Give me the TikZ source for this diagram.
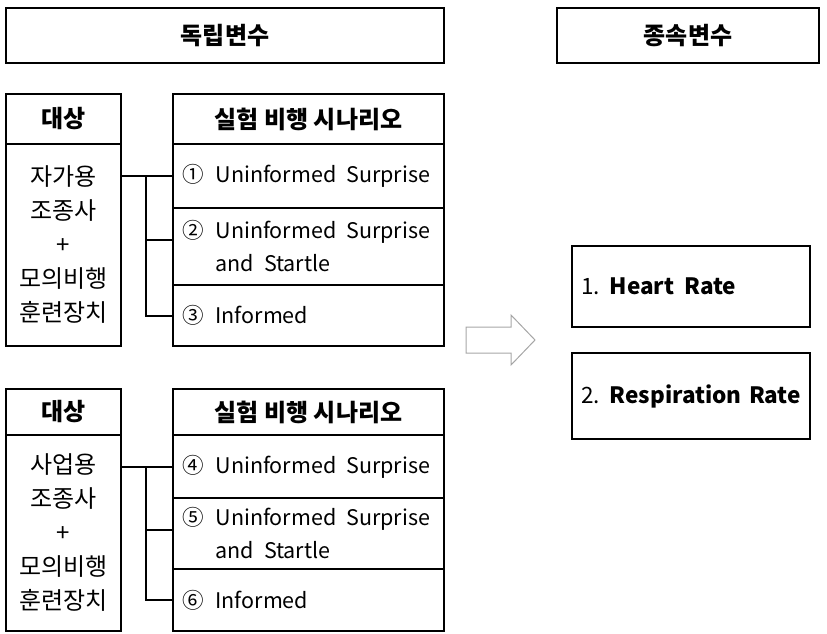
\documentclass[tikz,border=0pt]{standalone}
\usepackage{fontspec}
\setmainfont{Noto Sans CJK KR}
\usetikzlibrary{positioning, calc}
\newcommand{\cellfont}{\fontsize{21.5}{33}\selectfont\hyphenpenalty=10000\relax}
\newcommand{\resultfont}{\fontsize{22.5}{33}\selectfont\hyphenpenalty=10000\relax}
\newcommand{\wsp}{\hspace{10pt}}
\newcommand{\nsp}{\hspace{12pt}}

\begin{document}
\begin{tikzpicture}[x=1pt, y=-1pt,
  frame/.style={draw, line width=2pt, inner sep=0pt},
  hdr/.style={frame, anchor=north west, font=\fontsize{24}{33}\selectfont\bfseries},
  subj/.style={frame, anchor=north west, align=center, minimum width=115pt, font=\fontsize{24}{34}\selectfont},
  cell/.style={frame, anchor=north west, align=left, inner xsep=9pt, text width=253pt, font=\cellfont},
  result/.style={cell, text width=220pt, font=\resultfont},
  link/.style={line width=2pt}]
  \useasboundingbox (0,0) rectangle (827,634);

  % Column headers
  \node[hdr, minimum width=438pt, minimum height=55pt] (indep) at (5,7) {독립변수};
  \node[hdr, minimum width=262pt, minimum height=55pt] (dep) at (556,7) {종속변수};

  % First group: subject and scenarios
  \node[hdr, minimum width=115pt, minimum height=50pt] (subjA) at (5,93) {대상};
  \node[subj, minimum height=202pt] (bodyA) at (5,143) {자가용\\조종사\\+\\모의비행\\훈련장치};
  \node[hdr, minimum width=271pt, minimum height=50pt] (scnA) at (172,93) {실험 비행 시나리오};
  \node[cell, minimum height=64pt] (c1) at (172,143) {①\nsp Uninformed\wsp Surprise};
  \node[cell, minimum height=77pt] (c2) at (172,207) {②\nsp Uninformed\wsp Surprise\\\hphantom{②}\nsp and\wsp Startle};
  \node[cell, minimum height=61pt] (c3) at (172,284) {③\nsp Informed};

  \coordinate (jA) at ($(c1.west)+(-26,0)$);
  \coordinate (k2) at ([yshift=7pt]c2.west);
  \draw[link] (c1.west -| bodyA.east) -- (c1.west);
  \draw[link] (jA) |- (c3.west);
  \draw[link] (jA |- k2) -- (k2);

  % Second group: subject and scenarios
  \node[hdr, minimum width=115pt, minimum height=46pt] (subjB) at (5,388) {대상};
  \node[subj, minimum height=196pt] (bodyB) at (5,434) {사업용\\조종사\\+\\모의비행\\훈련장치};
  \node[hdr, minimum width=271pt, minimum height=46pt] (scnB) at (172,388) {실험 비행 시나리오};
  \node[cell, minimum height=63pt] (c4) at (172,434) {④\nsp Uninformed\wsp Surprise};
  \node[cell, minimum height=71pt] (c5) at (172,497) {⑤\nsp Uninformed\wsp Surprise\\\hphantom{⑤}\nsp and\wsp Startle};
  \node[cell, minimum height=62pt] (c6) at (172,568) {⑥\nsp Informed};

  \coordinate (jB) at ($(c4.west)+(-26,0)$);
  \coordinate (k5) at ([yshift=4pt]c5.west);
  \draw[link] (c4.west -| bodyB.east) -- (c4.west);
  \draw[link] (jB) |- (c6.west);
  \draw[link] (jB |- k5) -- (k5);

  % Flow arrow
  \draw[gray!70, line width=1pt] (466,327) -- (511,327) -- (511,315) -- (535,340)
    -- (511,365) -- (511,353) -- (466,353) -- cycle;

  % Dependent variables
  \node[result, minimum height=81pt] (hr) at (571,245) {1.\wsp\textbf{Heart\wsp Rate}};
  \node[result, minimum height=86pt] (rr) at (571,352) {2.\wsp\textbf{Respiration Rate}};
\end{tikzpicture}
\end{document}
